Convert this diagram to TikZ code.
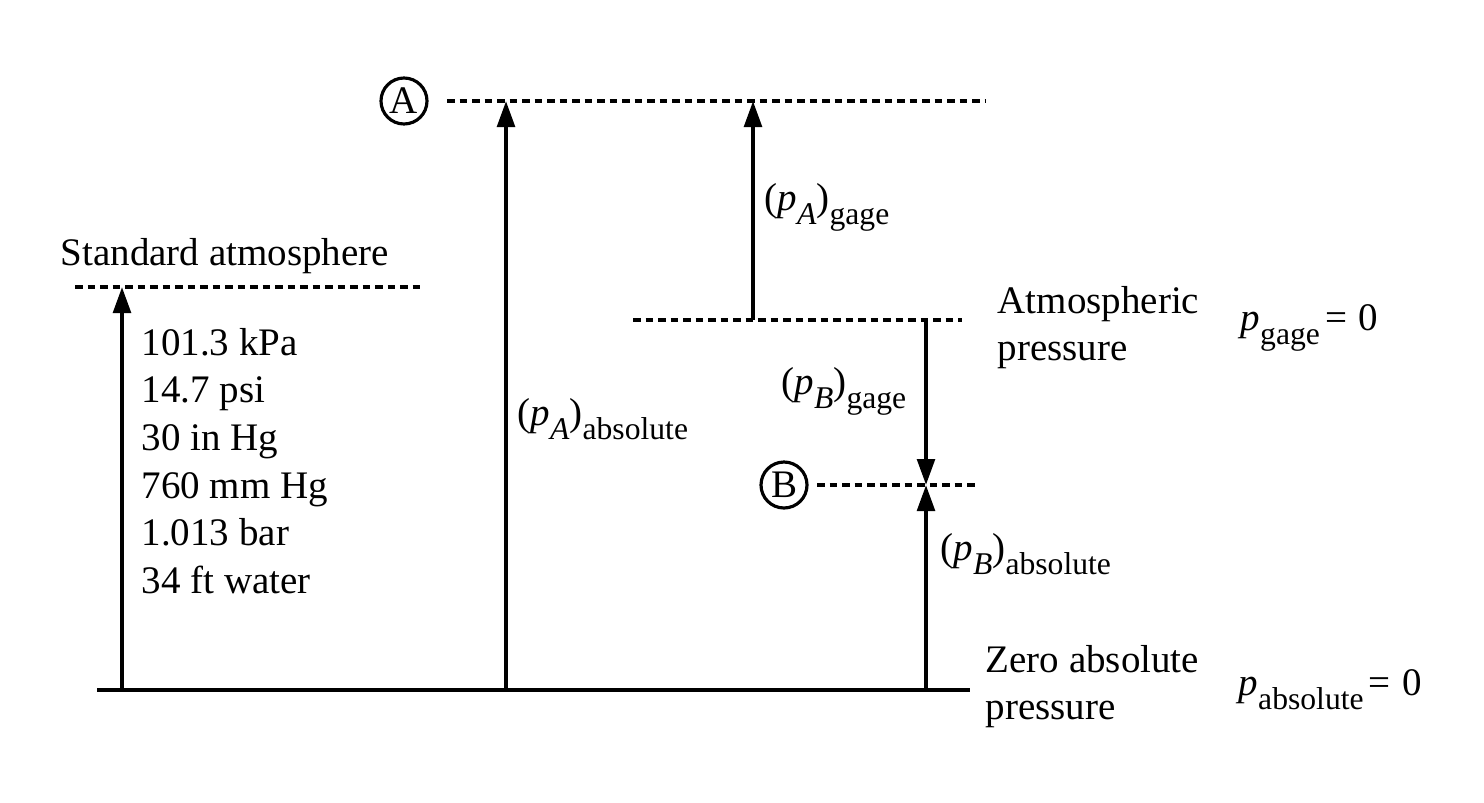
\documentclass[tikz,border=0pt]{standalone}
\usepackage{fontspec}
\setmainfont{Liberation Serif}
\usetikzlibrary{arrows.meta}
\newcommand{\lowsub}[1]{\raisebox{-4.2pt}{\fontsize{9}{10}\selectfont #1}}
\begin{document}
\begin{tikzpicture}[
  txt/.style={anchor=base west,inner sep=0pt,font=\fontsize{11.1}{13.4}\selectfont},
  ref/.style={draw,line width=0.9pt,circle,minimum size=0.46cm,inner sep=0pt,font=\fontsize{11.1}{13.4}\selectfont},
  level/.style={line width=1.15pt,dash pattern=on 0.075cm off 0.05cm},
  base/.style={line width=1.0pt},
  uparrow/.style={line width=1.15pt,-{Triangle[length=0.26cm,width=0.175cm]}}
]
\useasboundingbox (0,0) rectangle (14.84,-8.02);

% reference points
\node[ref] (A) at (4.04,-1.01) {A};
\node[ref] (B) at (7.84,-4.85) {B};

% coordinates
\coordinate (Aend) at (9.85,-1.01);
\coordinate (Astart) at (4.47,-1.01);
\coordinate (Bstart) at (8.17,-4.85);
\coordinate (Bend) at (9.75,-4.85);
\coordinate (SAl) at (0.75,-2.87);
\coordinate (SAr) at (4.20,-2.87);
\coordinate (ATl) at (6.33,-3.20);
\coordinate (ATr) at (9.62,-3.20);
\coordinate (Z0) at (0.97,-6.90);
\coordinate (Z1) at (9.70,-6.90);

\coordinate (s0) at (1.22,-6.90);
\coordinate (s1) at (1.22,-2.87);
\coordinate (a0) at (5.06,-6.90);
\coordinate (a1) at (5.06,-1.01);
\coordinate (g0) at (7.53,-3.20);
\coordinate (g1) at (7.53,-1.01);
\coordinate (b0) at (9.26,-3.20);
\coordinate (b1) at (9.26,-4.85);
\coordinate (c0) at (9.26,-6.90);
\coordinate (c1) at (9.26,-4.85);

% level lines
\draw[level] (Astart) -- (Aend);
\draw[level] (SAl) -- (SAr);
\draw[level] (ATl) -- (ATr);
\draw[level] (Bstart) -- (Bend);
\draw[base] (Z0) -- (Z1);

% arrows
\draw[uparrow] (s0) -- (s1);
\draw[uparrow] (a0) -- (a1);
\draw[uparrow] (g0) -- (g1);
\draw[uparrow] (b0) -- (b1);
\draw[uparrow] (c0) -- (c1);

% texts
\node[txt] (std) at (0.60,-2.65) {Standard atmosphere};
\node[txt] (v1) at (1.41,-3.55) {101.3 kPa};
\node[txt] (v2) at (1.41,-4.02) {14.7 psi};
\node[txt] (v3) at (1.41,-4.50) {30 in Hg};
\node[txt] (v4) at (1.41,-4.98) {760 mm Hg};
\node[txt] (v5) at (1.41,-5.45) {1.013 bar};
\node[txt] (v6) at (1.41,-5.93) {34 ft water};

\node[txt] (pag) at (7.64,-2.10) {(\textit{p}\lowsub{\textit{A}})\lowsub{gage}};
\node[txt] (pbg) at (7.81,-3.94) {(\textit{p}\lowsub{\textit{B}})\lowsub{gage}};
\node[txt] (paa) at (5.17,-4.25) {(\textit{p}\lowsub{\textit{A}})\lowsub{absolute}};
\node[txt] (pba) at (9.40,-5.60) {(\textit{p}\lowsub{\textit{B}})\lowsub{absolute}};

\node[txt] (atm1) at (9.97,-3.13) {Atmospheric};
\node[txt] (atm2) at (9.97,-3.60) {pressure};
\node[txt] (pg0) at (12.40,-3.30) {\textit{p}\lowsub{gage}\kern1.5pt=\kern3.2pt0};

\node[txt] (zero1) at (9.85,-6.72) {Zero absolute};
\node[txt] (zero2) at (9.85,-7.19) {pressure};
\node[txt] (pa0) at (12.38,-6.95) {\textit{p}\lowsub{absolute}\kern1.5pt=\kern3.2pt0};
\end{tikzpicture}
\end{document}
